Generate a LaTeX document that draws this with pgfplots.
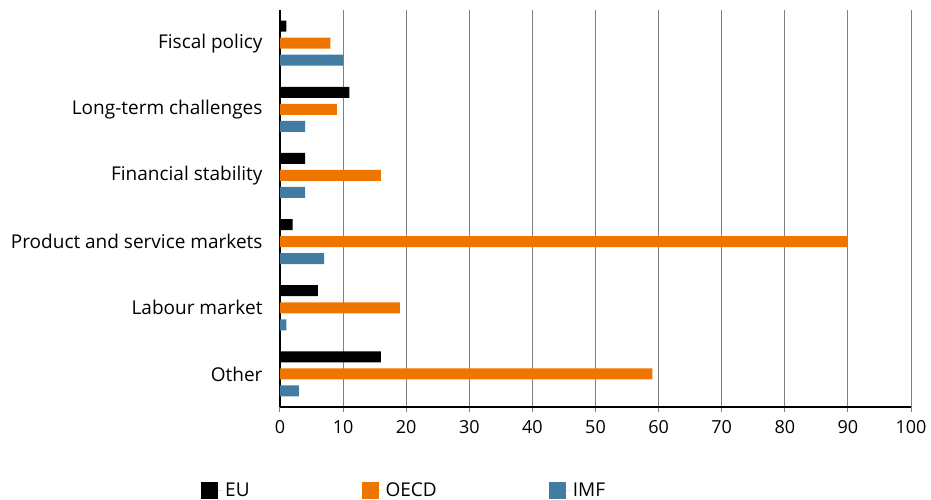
\documentclass[border=0pt]{standalone}
\usepackage{pgfplots}
\pgfplotsset{compat=1.18}
\usepackage{fontspec}
\setmainfont{Open Sans}
\definecolor{euc}{HTML}{000000}
\definecolor{oecdc}{HTML}{EE7600}
\definecolor{imfc}{HTML}{427CA3}
\begin{document}
\begin{tikzpicture}
\begin{axis}[
  scale only axis, width=631pt, height=397pt,
  xmin=0, xmax=100, ymin=-0.5, ymax=5.5,
  xtick={0,10,...,100},
  ytick={0,1,2,3,4,5},
  yticklabels={Other,Labour market,Product and service markets,Financial stability,Long-term challenges,Fiscal policy},
  axis x line*=bottom, axis y line*=left,
  x axis line style={-,line width=1.2pt},
  y axis line style={-,line width=1.2pt},
  xmajorgrids, major grid style={black!50,line width=1pt},
  x tick style={black!50,line width=1pt},
  xtick align=outside, major tick length=5pt,
  y tick style={draw=none},
  /pgf/number format/assume math mode=true,
  yticklabel style={font=\fontsize{19}{22}\selectfont, xshift=-9pt},
  xticklabel style={font=\fontsize{18}{21}\selectfont, yshift=-5pt},
  xbar, bar width=11pt,
  legend style={at={(0,0)},anchor=north west,xshift=-82pt,yshift=-72pt,draw=none,
    font=\fontsize{19}{22}\selectfont,
    /tikz/every even column/.append style={column sep=110pt}},
  legend columns=3,
  legend image code/.code={\fill[#1] (0pt,-8.5pt) rectangle (17pt,8.5pt); \path (0pt,0pt) -- (22pt,0pt);},
  reverse legend,
]
\addplot[fill=imfc,draw=none,bar shift=-17pt] coordinates {(3,0) (1,1) (7,2) (4,3) (4,4) (10,5)};
\addplot[fill=oecdc,draw=none,bar shift=0pt] coordinates {(59,0) (19,1) (90,2) (16,3) (9,4) (8,5)};
\addplot[fill=euc,draw=none,bar shift=17pt] coordinates {(16,0) (6,1) (2,2) (4,3) (11,4) (1,5)};
\legend{IMF,OECD,EU}
\end{axis}
\pgfresetboundingbox
\path[use as bounding box] (-280pt,-93pt) rectangle (651pt,407pt);
\end{tikzpicture}
\end{document}
